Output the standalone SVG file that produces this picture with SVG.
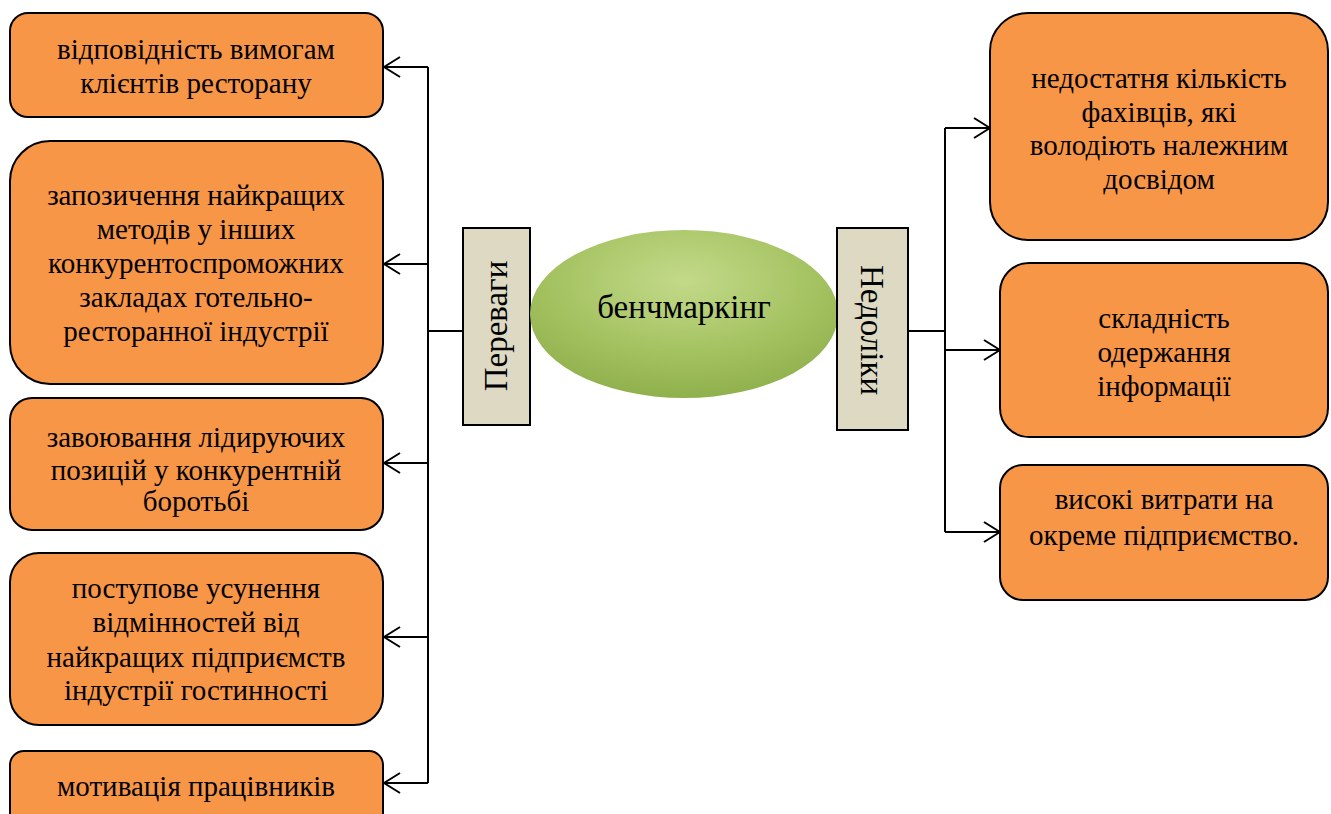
<svg xmlns="http://www.w3.org/2000/svg" width="1331" height="814" viewBox="0 0 1331 814">
<style>
.box{fill:#f79646;stroke:#000;stroke-width:2}
.lbl{fill:#ddd9c3;stroke:#000;stroke-width:2}
.t{font-family:"Liberation Serif","Times New Roman",serif;font-size:29px;fill:#000;text-anchor:middle}
.big{font-size:33px}
.c{fill:none;stroke:#000;stroke-width:2}
</style>
<defs>
<marker id="arr" viewBox="0 0 18 22" refX="17" refY="11" markerWidth="18" markerHeight="22" markerUnits="userSpaceOnUse" orient="auto">
<path d="M1,1 L17,11 L1,21" fill="none" stroke="#000" stroke-width="2"/>
</marker>
<radialGradient id="g" cx="0.5" cy="0.3" r="0.75">
<stop offset="0" stop-color="#c3da8a"/>
<stop offset="0.6" stop-color="#a3c15f"/>
<stop offset="1" stop-color="#8cad49"/>
</radialGradient>
</defs>
<g id="connectors">
<path class="c" d="M463,331 H428"/>
<path class="c" d="M428,67 V783"/>
<path class="c" d="M428,67 H384" marker-end="url(#arr)"/>
<path class="c" d="M428,264 H384" marker-end="url(#arr)"/>
<path class="c" d="M428,463 H384" marker-end="url(#arr)"/>
<path class="c" d="M428,637 H384" marker-end="url(#arr)"/>
<path class="c" d="M428,783 H384" marker-end="url(#arr)"/>
<path class="c" d="M908,331 H945"/>
<path class="c" d="M945,128 V532"/>
<path class="c" d="M945,128 H990" marker-end="url(#arr)"/>
<path class="c" d="M945,350 H1000" marker-end="url(#arr)"/>
<path class="c" d="M945,532 H1000" marker-end="url(#arr)"/>
</g>
<g id="l1"><rect class="box" x="10" y="13" width="373" height="104" rx="18"/>
<text class="t"><tspan x="196" y="59">відповідність вимогам</tspan><tspan x="196" y="93">клієнтів ресторану</tspan></text></g>
<g id="l2"><rect class="box" x="10" y="141" width="373" height="243" rx="40"/>
<text class="t"><tspan x="196" y="205">запозичення найкращих</tspan><tspan x="196" y="239">методів у інших</tspan><tspan x="196" y="273">конкурентоспроможних</tspan><tspan x="196" y="307">закладах готельно-</tspan><tspan x="196" y="341">ресторанної індустрії</tspan></text></g>
<g id="l3"><rect class="box" x="10" y="398" width="373" height="132" rx="22"/>
<text class="t"><tspan x="196" y="447">завоювання лідируючих</tspan><tspan x="196" y="480">позицій у конкурентній</tspan><tspan x="196" y="511">боротьбі</tspan></text></g>
<g id="l4"><rect class="box" x="10" y="553" width="373" height="172" rx="29"/>
<text class="t"><tspan x="196" y="598">поступове усунення</tspan><tspan x="196" y="632">відмінностей від</tspan><tspan x="196" y="667">найкращих підприємств</tspan><tspan x="196" y="700">індустрії гостинності</tspan></text></g>
<g id="l5"><rect class="box" x="10" y="751" width="373" height="80" rx="14"/>
<text class="t"><tspan x="196" y="796">мотивація працівників</tspan></text></g>
<g id="adv"><rect class="lbl" x="463" y="228" width="67" height="197"/>
<text class="t big" transform="translate(507,326) rotate(-90)" x="0" y="0">Переваги</text></g>
<g id="center"><ellipse cx="684" cy="314" rx="154" ry="84" fill="url(#g)"/>
<text class="t big" x="684" y="318">бенчмаркінг</text></g>
<g id="dis"><rect class="lbl" x="837" y="228" width="71" height="202"/>
<text class="t big" transform="translate(861,330) rotate(90)" x="0" y="0">Недоліки</text></g>
<g id="r1"><rect class="box" x="990" y="13" width="338" height="227" rx="38"/>
<text class="t"><tspan x="1159" y="88">недостатня кількість</tspan><tspan x="1159" y="122">фахівців, які</tspan><tspan x="1159" y="155">володіють належним</tspan><tspan x="1159" y="189">досвідом</tspan></text></g>
<g id="r2"><rect class="box" x="1000" y="263" width="328" height="174" rx="29"/>
<text class="t"><tspan x="1164" y="328">складність</tspan><tspan x="1164" y="362">одержання</tspan><tspan x="1164" y="396">інформації</tspan></text></g>
<g id="r3"><rect class="box" x="1000" y="465" width="328" height="135" rx="23"/>
<text class="t"><tspan x="1164" y="509">високі витрати на</tspan><tspan x="1164" y="545">окреме підприємство.</tspan></text></g>
</svg>
